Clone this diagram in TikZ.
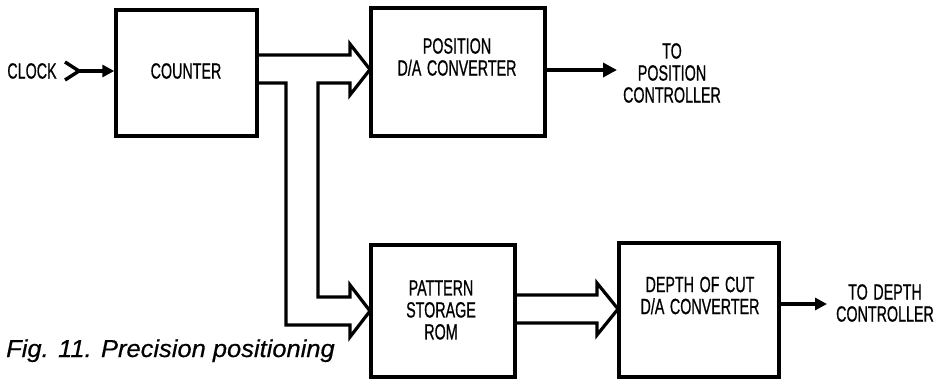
\documentclass[tikz,border=0pt]{standalone}
\usepackage{fontspec}
\setmainfont{Liberation Sans}
\newfontfamily\condfont[FakeStretch=0.65,FakeBold=0.7,WordSpace=1.4]{Liberation Sans}
\newfontfamily\capfont[FakeStretch=1.04,FakeBold=0.5]{Liberation Sans}
\usetikzlibrary{arrows.meta}
\begin{document}
\begin{tikzpicture}[x=1pt,y=-1pt,
  blk/.style={draw,line width=3.4pt,minimum width=#1,inner sep=0pt},
  lbl/.style={align=center,inner sep=0pt,font=\condfont\fontsize{22}{22}\selectfont},
  wire/.style={line width=3.4pt},
  bus/.style={line width=3.2pt,line join=miter},
  outarrow/.style={line width=3.4pt,-{Triangle[length=#1,width=#1]}}]
\useasboundingbox (0,0) rectangle (936,379);
% blocks
\node[blk=141pt,minimum height=126pt] (counter) at (186.5,73) {};
\node[blk=174pt,minimum height=128pt] (posda) at (458,72) {};
\node[blk=144pt,minimum height=132pt] (rom) at (443,311) {};
\node[blk=160pt,minimum height=134pt] (depth) at (699,310) {};
% texts
\node[lbl] (clocktxt) at (32,71) {CLOCK};
\node[lbl] (countertxt) at (186,71) {COUNTER};
\node[lbl] (postxt) at (457,57) {POSITION\\D/A CONVERTER};
\node[lbl] (topos) at (672,73) {TO\\POSITION\\CONTROLLER};
\node[lbl] (romtxt) at (441,310) {PATTERN\\STORAGE\\ROM};
\node[lbl] (depthtxt) at (700,295.5) {DEPTH OF CUT\\D/A CONVERTER};
\node[lbl] (todepth) at (885,303) {TO DEPTH\\CONTROLLER};
\node[anchor=base west,inner sep=0pt,font=\capfont\itshape\fontsize{24.5}{28}\selectfont] (caption) at (6,357) {Fig. 11. Precision positioning};
% clock input
\coordinate (chevA) at (65,62);
\coordinate (chevB) at (79,71);
\coordinate (chevC) at (65,80);
\draw[wire,line join=miter] (chevA) -- (chevB) -- (chevC);
\draw[outarrow=12pt] (chevB) -- (counter.west |- chevB);
% outputs
\coordinate (posout) at (545,70);
\coordinate (posend) at (617,70);
\draw[outarrow=14pt] (posout) -- (posend);
\coordinate (depout) at (779,304);
\coordinate (depend) at (827,304);
\draw[outarrow=12pt] (depout) -- (depend);
% bus from counter to position D/A and pattern ROM
\coordinate (cA) at (257,55);
\coordinate (cB) at (257,83);
\coordinate (ptip) at (370,69.5);
\coordinate (rtip) at (370,311);
\draw[bus] (cA) -- (350,55) -- (350,44) -- (ptip) -- (350,95) -- (350,83)
  -- (318,83) -- (318,297) -- (350,297) -- (350,285) -- (rtip)
  -- (350,337) -- (350,325) -- (286,325) -- (286,83) -- (cB);
% bus from pattern ROM to depth D/A
\coordinate (rA) at (515,295);
\coordinate (rB) at (515,323);
\coordinate (dtip) at (618,309);
\draw[bus] (rA) -- (597,295) -- (597,283) -- (dtip) -- (597,335) -- (597,323) -- (rB);
\end{tikzpicture}
\end{document}
